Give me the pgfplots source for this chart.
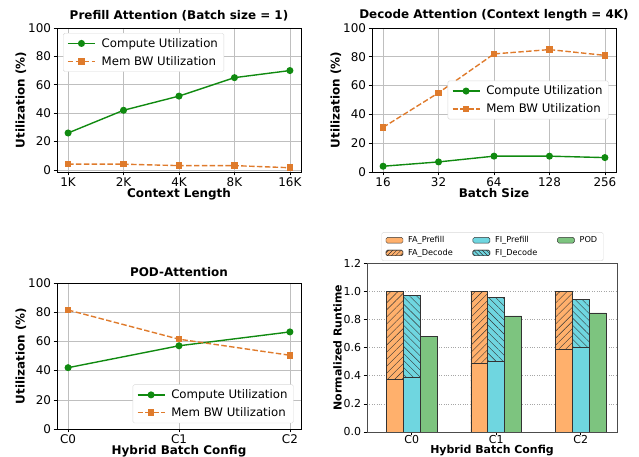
\documentclass[border=0pt]{standalone}
\usepackage{fontspec}
\setmainfont{DejaVu Sans}
\usepackage{pgfplots}
\pgfplotsset{compat=1.18}
\usetikzlibrary{patterns.meta}

\definecolor{cgreen}{HTML}{108A10}
\definecolor{corange}{HTML}{DF7B2C}
\definecolor{barfa}{HTML}{FFB06C}
\definecolor{barfi}{HTML}{6FD6E0}
\definecolor{barpod}{HTML}{7DC47F}
\definecolor{edge}{HTML}{333333}

\pgfplotsset{
  base/.style={
    scale only axis,
    /pgf/number format/assume math mode=true,
    tick label style={font=\fontsize{12}{14}\selectfont},
    label style={font=\bfseries\fontsize{12}{14}\selectfont},
    title style={font=\bfseries\fontsize{12}{14}\selectfont, yshift=-3pt},
    xticklabel style={yshift=1.5pt},
    yticklabel style={xshift=1pt},
    xlabel shift=-5pt, ylabel shift=-5pt,
    tick align=outside, tick pos=left,
    major tick length=3.5pt,
    every tick/.style={black, line width=0.6pt},
    axis line style={line width=0.7pt},
    legend cell align=left,
    legend style={font=\fontsize{11.8}{14}\selectfont, draw=black!15, rounded corners=1.5pt,
      row sep=3.5pt, inner xsep=4pt, inner ysep=3pt,
      /tikz/every odd column/.append style={column sep=4pt}},
  },
  lineplot/.style={
    base,
    width=244bp, height=144bp,
    grid=major, grid style={black!25, line width=0.6pt},
    ymin=0, ymax=100, ytick={0,20,40,60,80,100},
    ylabel={Utilization (\%)},
    xtick=data,
    legend image code/.code={\draw[mark repeat=2, mark phase=2, ##1]
      plot coordinates {(0bp,0bp) (13.5bp,0bp) (27bp,0bp)};},
  },
  comp/.style={cgreen, line width=1.4pt, mark=*, mark size=2.8pt},
  mem/.style={corange, line width=1.4pt, dash pattern=on 5.5pt off 2.4pt,
    mark=square*, mark size=2.6pt, mark options={solid}},
}

\begin{document}
\begin{tikzpicture}
\useasboundingbox (0bp,0bp) rectangle (639bp,457bp);

% top left
\begin{axis}[lineplot, at={(57bp,285bp)}, anchor=south west,
    title={Prefill Attention (Batch size = 1)},
    xlabel={Context Length},
    ymin=-1.5,
    xmin=-0.2, xmax=4.2,
    xticklabels={1K,2K,4K,8K,16K},
    legend style={at={(0.025,0.965)}, anchor=north west}]
  \addplot[comp] coordinates {(0,26) (1,42) (2,52) (3,65) (4,70)};
  \addlegendentry{Compute Utilization}
  \addplot[mem] coordinates {(0,4) (1,4) (2,3) (3,3) (4,1.5)};
  \addlegendentry{Mem BW Utilization}
\end{axis}

% top right
\begin{axis}[lineplot, at={(372bp,285bp)}, anchor=south west,
    title={Decode Attention (Context length = 4K)},
    xlabel={Batch Size},
    xmin=-0.2, xmax=4.2,
    xticklabels={16,32,64,128,256},
    legend style={at={(0.97,0.5)}, anchor=east}]
  \addplot[comp] coordinates {(0,4) (1,7) (2,11) (3,11) (4,10)};
  \addlegendentry{Compute Utilization}
  \addplot[mem] coordinates {(0,31) (1,55) (2,82) (3,85) (4,81)};
  \addlegendentry{Mem BW Utilization}
\end{axis}

% bottom left
\begin{axis}[lineplot, at={(57bp,28bp)}, anchor=south west, height=146bp,
    title={POD-Attention},
    xlabel={Hybrid Batch Config},
    xmin=-0.1, xmax=2.1,
    xticklabels={C0,C1,C2},
    legend style={at={(0.97,0.04)}, anchor=south east}]
  \addplot[comp] coordinates {(0,42) (1,57) (2,66.5)};
  \addlegendentry{Compute Utilization}
  \addplot[mem] coordinates {(0,81.5) (1,61.5) (2,50.5)};
  \addlegendentry{Mem BW Utilization}
\end{axis}

% bottom right
\begin{axis}[base, at={(367bp,25bp)}, anchor=south west,
    width=250bp, height=169bp,
    tick label style={font=\fontsize{11}{13}\selectfont},
    label style={font=\bfseries\fontsize{11}{13}\selectfont},
    xticklabel style={yshift=2.5pt},
    xlabel shift=-4.5pt,
    axis line style={black!70},
    ymin=0, ymax=1.2, ytick={0,0.2,0.4,0.6,0.8,1.0,1.2},
    yticklabel style={/pgf/number format/.cd, fixed, fixed zerofill, precision=1},
    xmin=-0.53, xmax=2.43, xtick={0,1,2}, xticklabels={C0,C1,C2},
    ymajorgrids, grid style={black!35, dotted, line width=0.6pt},
    xlabel={Hybrid Batch Config},
    ylabel={Normalized Runtime},
    legend columns=3,
    legend style={at={(0.502,1.012)}, anchor=south, font=\fontsize{8.2}{10}\selectfont,
      inner ysep=2pt, row sep=1pt,
      /tikz/every odd column/.append style={column sep=3pt},
      /tikz/every even column/.append style={column sep=18pt}},
    ]
  \addplot[ybar, bar width=0.2, bar shift=-0.2, fill=barfa, draw=edge, line width=0.6pt,
    postaction={pattern={Lines[angle=45,distance=5pt,line width=0.4pt]}, pattern color=edge},
    forget plot] coordinates {(0,1.0) (1,1.0) (2,1.0)};
  \addplot[ybar, bar width=0.2, bar shift=-0.2, fill=barfa, draw=edge, line width=0.6pt,
    forget plot] coordinates {(0,0.375) (1,0.49) (2,0.59)};
  \addplot[ybar, bar width=0.2, bar shift=0, fill=barfi, draw=edge, line width=0.6pt,
    postaction={pattern={Lines[angle=-45,distance=5pt,line width=0.4pt]}, pattern color=edge},
    forget plot] coordinates {(0,0.97) (1,0.955) (2,0.94)};
  \addplot[ybar, bar width=0.2, bar shift=0, fill=barfi, draw=edge, line width=0.6pt,
    forget plot] coordinates {(0,0.39) (1,0.50) (2,0.60)};
  \addplot[ybar, bar width=0.2, bar shift=0.2, fill=barpod, draw=edge, line width=0.6pt,
    forget plot] coordinates {(0,0.68) (1,0.825) (2,0.845)};

  \addlegendimage{area legend, fill=barfa, draw=edge}
  \addlegendentry{FA\_Prefill}
  \addlegendimage{area legend, fill=barfi, draw=edge}
  \addlegendentry{FI\_Prefill}
  \addlegendimage{area legend, fill=barpod, draw=edge}
  \addlegendentry{POD}
  \addlegendimage{area legend, fill=barfa, draw=edge,
    postaction={pattern={Lines[angle=45,distance=3pt,line width=0.4pt]}, pattern color=edge}}
  \addlegendentry{FA\_Decode}
  \addlegendimage{area legend, fill=barfi, draw=edge,
    postaction={pattern={Lines[angle=-45,distance=3pt,line width=0.4pt]}, pattern color=edge}}
  \addlegendentry{FI\_Decode}
\end{axis}
\end{tikzpicture}
\end{document}
